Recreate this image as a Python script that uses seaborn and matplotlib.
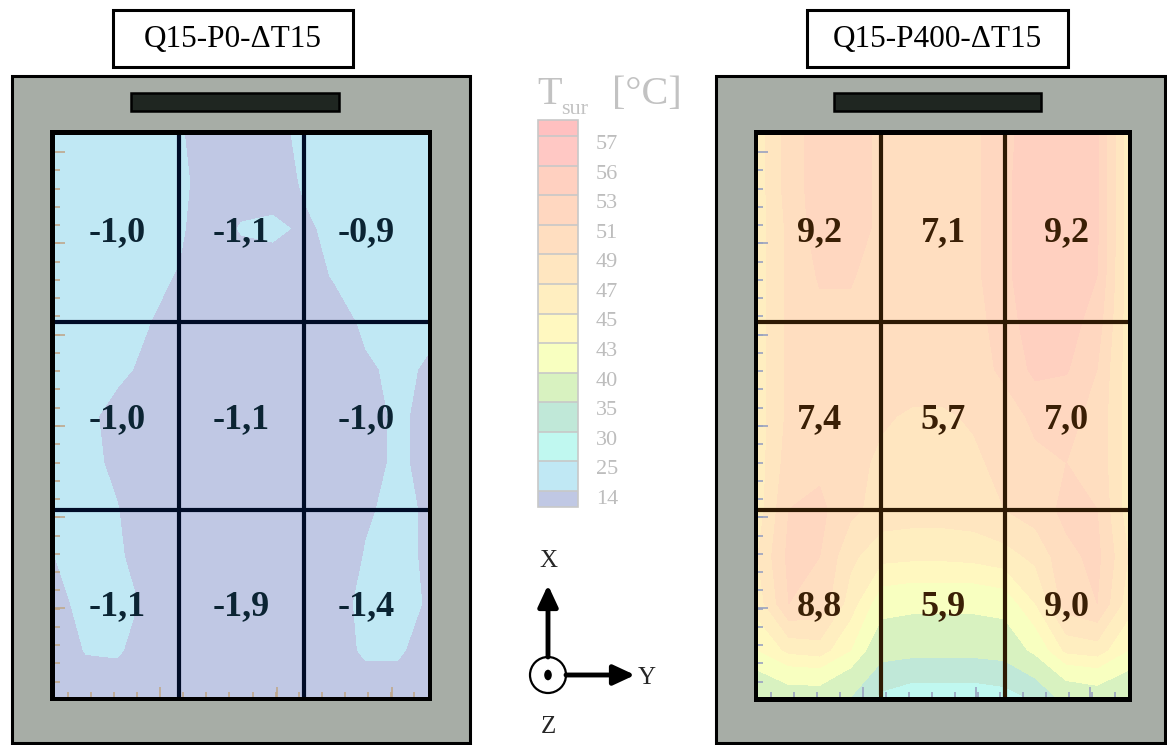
import numpy as np
import matplotlib
matplotlib.use("Agg")
import matplotlib.pyplot as plt
from matplotlib.colors import ListedColormap, BoundaryNorm
from matplotlib.cm import ScalarMappable
from matplotlib.patches import Rectangle, Circle, Ellipse
import matplotlib.transforms as mtransforms
import seaborn as sns

# legend levels [°C] and the colour of each band (low -> high)
levels = [14, 25, 30, 35, 40, 43, 45, 47, 49, 51, 53, 56, 57]
band_colors = ["#C0E8F4", "#C0F8F0", "#C0E8D8", "#D8F2C0", "#F8FFC0", "#FFF8C0",
               "#FFEEC0", "#FFE6C0", "#FFDEC0", "#FFD7C0", "#FFD0C0", "#FFC8C4"]
under_color = "#C0C8E4"
over_color = "#FFC0C0"

titles = ["Q15-P0-ΔT15", "Q15-P400-ΔT15"]
left_cells = [[-1.0, -1.1, -0.9],
              [-1.0, -1.1, -1.0],
              [-1.1, -1.9, -1.4]]
right_cells = [[9.2, 7.1, 9.2],
               [7.4, 5.7, 7.0],
               [8.8, 5.9, 9.0]]

# surface temperature, 13 x 13 nodes, top row first
left_field = [
    [16, 16, 16, 16, 15, 9, 9, 11, 16, 16, 16, 16, 16],
    [16, 16, 16, 16, 16, 10, 9, 9, 15, 16, 16, 16, 16],
    [16, 16, 16, 16, 15.2, 9, 14.8, 16, 12.5, 16, 16, 16, 16],
    [16, 16, 16, 16, 13.5, 9, 9, 9, 9, 15, 16, 16, 16],
    [16, 16, 16, 14.3, 9, 9, 9, 9, 9, 9, 16, 16, 16],
    [16, 16, 16, 12, 9, 9, 9, 9, 9, 9, 12.5, 16, 13],
    [16, 16, 11, 9, 9, 9, 9, 9, 9, 9, 9, 16, 11],
    [14, 16, 12.5, 9, 9, 9, 9, 9, 9, 9, 9.5, 16, 11],
    [15, 16, 14.3, 9, 9, 9, 9, 9, 9, 9, 13, 16, 13],
    [14, 16, 15.5, 9, 9, 9, 9, 9, 9, 9, 14.5, 16, 13],
    [12, 16, 16, 13, 9, 9, 9, 9, 9, 11, 16, 16, 13.5],
    [9, 14.5, 15, 10, 9, 9, 9, 9, 9, 10, 15.5, 15.5, 10],
    [9, 9, 9, 9, 9, 9, 9, 9, 9, 9, 9, 9, 9],
]
right_field = [
    [46, 50, 52, 52, 50.5, 50, 50, 50.5, 52.5, 54, 54, 53.3, 46],
    [46, 50, 52, 52, 50.5, 50, 50, 50.5, 52.5, 54.5, 54.5, 53.3, 46],
    [46, 49.5, 52, 52, 50.5, 50, 50, 50.5, 52.5, 54.5, 54.5, 53.3, 46],
    [46, 49.5, 51.2, 51.2, 50, 50, 50, 50.5, 52.5, 54.5, 54, 53, 46],
    [46, 49.5, 50.5, 50.5, 50, 50, 50, 50.2, 52, 54.2, 54, 52, 46],
    [46, 49.5, 50.5, 50.2, 50, 49.8, 49.8, 50, 51.5, 53.5, 53.2, 51, 46],
    [46, 49.5, 50.2, 49.5, 49.2, 48.8, 48.8, 49.2, 50, 51.5, 51.5, 50.5, 46],
    [46, 50, 50.5, 49.5, 48.7, 48.5, 48.5, 48.7, 49.5, 50.5, 51, 50.5, 46],
    [46, 51, 51.5, 49.5, 48.2, 48, 48, 48.2, 49, 50, 51.5, 51, 46],
    [47, 51.5, 51, 47.5, 45.6, 45.4, 45.4, 45.6, 46.2, 47.5, 50.5, 51.5, 47],
    [46, 51, 50.5, 46, 41.5, 41, 41, 41, 41.5, 45, 50, 51, 46],
    [43, 45.5, 46, 43, 37, 36.5, 36.5, 36.5, 37, 41, 45.5, 46, 43],
    [36, 38, 38, 35, 29, 27, 27, 27, 28, 31, 37, 38, 36],
]

sns.set_theme(style="white")
plt.rcParams["font.family"] = ["Liberation Serif", "DejaVu Serif"]

W, H = 1167, 745
fig = plt.figure(figsize=(W / 100, H / 100), dpi=100)


def px_axes(x0, y0, x1, y1):
    return fig.add_axes([x0 / W, 1 - y1 / H, (x1 - x0) / W, (y1 - y0) / H])


bg = fig.add_axes([0, 0, 1, 1])
bg.set_xlim(0, W)
bg.set_ylim(H, 0)
bg.axis("off")

cmap = ListedColormap(sns.color_palette(band_colors)).with_extremes(under=under_color, over=over_color)
norm = BoundaryNorm(levels, cmap.N)

panels = [
    dict(frame=(12, 470), box=(113, 353), bar=(131, 339), border=(50, 130, 432, 701),
         field_px=(55, 135, 428, 697), data=left_field, cells=left_cells,
         grid="#000C26", txt="#0B2433", tick="#BFA88C",
         xt=[0.845, 1.786, 2.711]),
    dict(frame=(716, 1165), box=(807, 1068), bar=(834, 1041), border=(754, 130, 1132, 702),
         field_px=(758, 135, 1128, 697), data=right_field, cells=right_cells,
         grid="#2E1A04", txt="#3A1F05", tick="#9AA2C0",
         xt=[0.85, 1.77, 2.69]),
]

for p, title in zip(panels, titles):
    fx0, fx1 = p["frame"]
    bg.add_patch(Rectangle((fx0, 76), fx1 - fx0, 667, fc="#A7ADA6", ec="black", lw=2.2))
    bx0, bx1 = p["bar"]
    bg.add_patch(Rectangle((bx0, 93), bx1 - bx0, 18, fc="#1F2621", ec="black", lw=1.8))
    ox0, oy0, ox1, oy1 = p["border"]
    bg.add_patch(Rectangle((ox0, oy0), ox1 - ox0, oy1 - oy0, fc="black", ec="none"))
    tx0, tx1 = p["box"]
    bg.add_patch(Rectangle((tx0, 10), tx1 - tx0, 57, fc="white", ec="black", lw=2.2))
    bg.text((tx0 + tx1) / 2, 40, title, ha="center", va="center", fontsize=22.5, color="black")

    ax = px_axes(*p["field_px"])
    z = np.array(p["data"], dtype=float)
    nodes = np.linspace(0, 3, z.shape[1])
    rows = np.linspace(0, 3, z.shape[0])
    ax.contourf(nodes, rows, z, levels=levels, cmap=cmap, norm=norm, extend="both")
    ax.set_xlim(0, 3)
    ax.set_ylim(3, 0)
    for k in (1, 2):
        ax.axvline(k, color=p["grid"], lw=3)
        ax.axhline(k, color=p["grid"], lw=3)
    for r, row in enumerate(p["cells"]):
        for c, v in enumerate(row):
            ax.text(c + 0.5, r + 0.565, f"{v:.1f}".replace(".", ","), ha="center",
                    va="baseline", fontsize=26, fontweight="bold", color=p["txt"])
    # small inward ticks of the original plot
    ax.set_axisbelow(False)
    ax.set_yticks(np.arange(0.091, 3, 0.487))
    ax.set_yticks(np.arange(0.091, 3, 0.0975), minor=True)
    ax.set_xticks(p["xt"])
    ax.set_xticks(np.arange(p["xt"][0] % 0.186, 3, 0.186), minor=True)
    ax.tick_params(which="both", direction="in", color=p["tick"], labelleft=False,
                   labelbottom=False, left=True, bottom=True, width=1.2)
    ax.tick_params(which="major", length=7)
    ax.tick_params(which="minor", length=3.5)
    for s in ax.spines.values():
        s.set_visible(False)

# legend bar
cax = px_axes(538, 120, 578, 507)
cb = fig.colorbar(ScalarMappable(norm=norm, cmap=cmap), cax=cax, extend="both",
                  extendrect=True, extendfrac=0.045, drawedges=True, ticks=levels)
cb.outline.set_edgecolor("#C8C8C8")
cb.outline.set_linewidth(1.2)
cb.dividers.set_color("#C8C8C8")
cb.dividers.set_linewidth(1.2)
cax.tick_params(length=0, pad=13, labelsize=16, labelcolor="#BDBDBD")
shift = mtransforms.ScaledTranslation(0, -0.06, fig.dpi_scale_trans)
for lbl in cax.get_yticklabels():
    lbl.set_transform(lbl.get_transform() + shift)

grey = "#C2C2C2"
bg.text(537, 104, "T", fontsize=29, color=grey, va="baseline")
bg.text(561, 114, "sur", fontsize=16, color=grey, va="baseline")
bg.text(612, 104, "[°C]", fontsize=29, color=grey, va="baseline")

# coordinate system sketch
arrow = dict(arrowstyle="-|>,head_length=0.43,head_width=0.2", lw=3.5, color="black",
             mutation_scale=30, shrinkA=0, shrinkB=0)
bg.annotate("", xy=(548, 585), xytext=(548, 657), arrowprops=arrow)
bg.annotate("", xy=(635, 675), xytext=(566, 675), arrowprops=arrow)
bg.add_patch(Circle((548, 675), 18, fill=False, ec="black", lw=1.6))
bg.add_patch(Ellipse((548, 675), 9, 12, fc="black"))
bg.text(548, 561, "X", fontsize=18, ha="center", va="center")
bg.text(647, 678, "Y", fontsize=18, ha="center", va="center")
bg.text(548, 727, "Z", fontsize=18, ha="center", va="center")

fig.savefig("out.png", dpi=100)
